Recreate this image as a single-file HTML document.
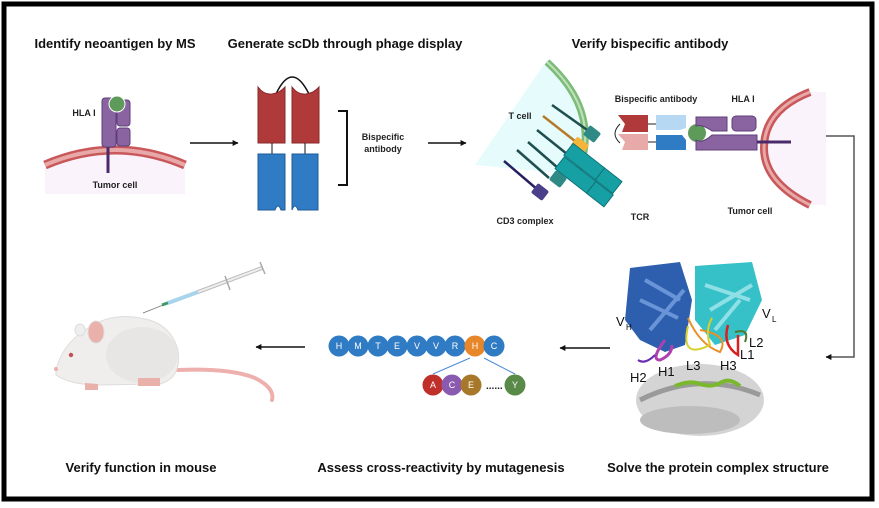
<!DOCTYPE html>
<html><head><meta charset="utf-8"><style>
html,body{margin:0;padding:0;background:#fff;}
svg{display:block;}
text{font-family:"Liberation Sans",sans-serif;}
.t{font-size:13px;font-weight:bold;fill:#111;text-anchor:middle;}
.s{font-size:9px;font-weight:bold;fill:#222;text-anchor:middle;}
.p{font-size:9px;fill:#fff;text-anchor:middle;}
.l{font-size:13px;fill:#111;}
</style></head><body>
<svg width="879" height="508" viewBox="0 0 879 508" xmlns="http://www.w3.org/2000/svg">
<defs>
<marker id="ah" viewBox="0 0 10 10" refX="9" refY="5" markerWidth="4" markerHeight="4" orient="auto"><path d="M0,0L10,5L0,10z" fill="#111"/></marker>
</defs>
<rect x="0" y="0" width="879" height="508" fill="#fff"/>
<rect x="4" y="4" width="868" height="495" fill="none" stroke="#000" stroke-width="5"/>

<text class="t" x="115" y="48">Identify neoantigen by MS</text>
<text class="t" x="345" y="48">Generate scDb through phage display</text>
<text class="t" x="650" y="48">Verify bispecific antibody</text>
<text class="t" x="141" y="472">Verify function in mouse</text>
<text class="t" x="441" y="472">Assess cross-reactivity by mutagenesis</text>
<text class="t" x="718" y="472">Solve the protein complex structure</text>

<path d="M45,165 Q115,135 185,165 L185,194 L45,194 Z" fill="#fbf3fb"/>
<path d="M45,165 Q115,135 185,165" fill="none" stroke="#c9585a" stroke-width="9"/>
<path d="M45,165 Q115,135 185,165" fill="none" stroke="#e8a8a8" stroke-width="4"/>
<line x1="108" y1="145" x2="108" y2="173" stroke="#4a2a6a" stroke-width="3"/>
<rect x="102" y="98" width="14" height="49" rx="3" fill="#8a64a0" stroke="#5f3f7a"/>
<rect x="117" y="100" width="13" height="26" rx="3" fill="#8a64a0" stroke="#5f3f7a"/>
<rect x="117" y="128" width="13" height="18" rx="3" fill="#8a64a0" stroke="#5f3f7a"/>
<circle cx="117" cy="104" r="8" fill="#5e9a5a" stroke="#fff"/>
<text class="s" x="84" y="116">HLA I</text>
<text class="s" x="115" y="188">Tumor cell</text>

<line x1="190" y1="143" x2="238" y2="143" stroke="#111" stroke-width="1.5" marker-end="url(#ah)"/>

<path d="M276,94 Q292,60 309,94" fill="none" stroke="#111" stroke-width="1.5"/>
<path d="M258,87 Q264,95 272,94 Q280,93 285,87 L285,143 L258,143 Z" fill="#b03a3a" stroke="#8a2a2a"/>
<path d="M292,87 Q298,95 306,94 Q314,93 319,87 L319,143 L292,143 Z" fill="#b03a3a" stroke="#8a2a2a"/>
<line x1="272" y1="143" x2="272" y2="154" stroke="#111"/>
<line x1="305" y1="143" x2="305" y2="154" stroke="#111"/>
<path d="M258,154 L285,154 L285,210 L281,210 Q278,202 275,210 L258,210 Z" fill="#2f7bc4" stroke="#1f5a96"/>
<path d="M292,154 L318,154 L318,210 L298,210 Q295,202 292,210 Z" fill="#2f7bc4" stroke="#1f5a96"/>
<path d="M338,111 L347,111 L347,185 L338,185" fill="none" stroke="#111" stroke-width="2"/>
<text class="s" x="383" y="140">Bispecific</text>
<text class="s" x="383" y="152">antibody</text>

<line x1="428" y1="143" x2="466" y2="143" stroke="#111" stroke-width="1.5" marker-end="url(#ah)"/>

<path d="M547,60 Q600,110 580,175 L475,165 Z" fill="#e6fbfb"/>
<path d="M547,62 Q605,115 575,180" fill="none" stroke="#7cbc78" stroke-width="7"/>
<path d="M547,62 Q605,115 575,180" fill="none" stroke="#bfe0bb" stroke-width="2"/>
<text class="s" x="520" y="119">T cell</text>
<g stroke-width="2.5">
<line x1="552" y1="105" x2="590" y2="132" stroke="#1e4e4e"/>
<line x1="543" y1="116" x2="580" y2="145" stroke="#b57a2a"/>
<line x1="537" y1="130" x2="572" y2="158" stroke="#1e4e4e"/>
<line x1="528" y1="142" x2="558" y2="168" stroke="#1e4e4e"/>
<line x1="517" y1="150" x2="549" y2="178" stroke="#1e4e4e"/>
<line x1="504" y1="161" x2="538" y2="190" stroke="#262060"/>
</g>
<g transform="rotate(38 592 134)"><rect x="585" y="128" width="14" height="12" rx="2" fill="#2f8a86"/></g>
<g transform="rotate(38 580 146)"><rect x="572" y="140" width="15" height="12" rx="2" fill="#f4b53a"/></g>
<g transform="rotate(38 558 179)"><rect x="551" y="173" width="14" height="12" rx="2" fill="#2f8a86"/></g>
<g transform="rotate(38 540 192)"><rect x="533" y="186" width="14" height="12" rx="2" fill="#4a3f8a"/></g>
<g transform="rotate(38 583 160)"><rect x="565" y="153" width="40" height="15" fill="#17a0a4" stroke="#0d7478"/><rect x="605" y="153" width="22" height="15" fill="#17a0a4" stroke="#0d7478"/></g>
<g transform="rotate(38 575 174)"><rect x="556" y="167" width="40" height="15" fill="#17a0a4" stroke="#0d7478"/><rect x="596" y="167" width="22" height="15" fill="#17a0a4" stroke="#0d7478"/></g>
<text class="s" x="525" y="224">CD3 complex</text>
<text class="s" x="640" y="220">TCR</text>

<text class="s" x="656" y="102">Bispecific antibody</text>
<text class="s" x="743" y="102">HLA I</text>
<path d="M620,124 Q610,134 620,143" fill="none" stroke="#222"/>
<path d="M618,115 L648,115 L648,132 L622,132 L625,124 Z" fill="#b03a3a"/>
<path d="M618,134 L648,134 L648,150 L622,150 L625,142 Z" fill="#e8aaa8"/>
<line x1="648" y1="124" x2="656" y2="124" stroke="#222"/>
<line x1="648" y1="142" x2="656" y2="142" stroke="#222"/>
<path d="M656,115 L686,115 L686,128 L680,130 L656,130 Z" fill="#b6d8f2"/>
<path d="M656,135 L682,135 L686,140 L686,150 L656,150 Z" fill="#2f7bc4"/>
<circle cx="697" cy="133" r="9" fill="#5e9a5a"/>
<path d="M696,117 L727,117 L727,131 L712,131 Q702,124 696,126 Z" fill="#8a64a0" stroke="#5f3f7a"/>
<rect x="732" y="116" width="24" height="15" rx="4" fill="#8a64a0" stroke="#5f3f7a"/>
<path d="M696,150 L757,150 L757,135 L712,135 Q702,144 696,140 Z" fill="#8a64a0" stroke="#5f3f7a"/>
<path d="M810,92 L826,92 L826,205 L810,205 Q762,180 762,148 Q764,110 810,92 Z" fill="#fbf3fb"/>
<path d="M810,92 Q764,110 764,148 Q764,182 810,205" fill="none" stroke="#c9585a" stroke-width="8"/>
<path d="M810,92 Q764,110 764,148 Q764,182 810,205" fill="none" stroke="#e8a8a8" stroke-width="3"/>
<line x1="757" y1="142" x2="791" y2="142" stroke="#4a2a6a" stroke-width="3"/>
<text class="s" x="750" y="214">Tumor cell</text>

<path d="M826,136 L854,136 L854,357 L826,357" fill="none" stroke="#555" stroke-width="1.5" marker-end="url(#ah)"/>

<ellipse cx="700" cy="400" rx="64" ry="36" fill="#d4d4d4"/>
<ellipse cx="690" cy="420" rx="50" ry="14" fill="#bdbdbd"/>
<path d="M640,400 Q700,370 760,395" fill="none" stroke="#9a9a9a" stroke-width="5"/>
<path d="M675,386 Q690,380 700,384 Q712,388 722,382 Q730,378 740,386" fill="none" stroke="#7ab82e" stroke-width="4"/>
<path d="M630,268 L680,262 L692,300 L685,345 L665,352 L640,340 L625,320 Z" fill="#2e5fae"/>
<path d="M645,280 L680,300 M640,300 L678,318 M650,330 L684,290" stroke="#6a94d8" stroke-width="4"/>
<path d="M695,266 L752,262 L762,300 L745,335 L715,345 L695,320 Z" fill="#36c0c8"/>
<path d="M705,285 L750,300 M710,310 L752,285 M715,330 L740,300" stroke="#8ee0e6" stroke-width="4"/>
<path d="M688,318 Q700,345 720,352 Q730,335 700,330" fill="none" stroke="#e8902a" stroke-width="2"/>
<path d="M688,326 Q680,360 710,345 Q705,330 712,318" fill="none" stroke="#d8d02a" stroke-width="2"/>
<path d="M728,325 Q722,345 738,355 L738,335" fill="none" stroke="#d82020" stroke-width="2.5"/>
<path d="M735,332 Q750,328 745,342" fill="none" stroke="#4a7a2a" stroke-width="2"/>
<path d="M665,340 Q650,360 660,360 Q672,355 672,345" fill="none" stroke="#b040b0" stroke-width="3"/>
<path d="M655,355 Q645,365 638,360" fill="none" stroke="#6a2ab0" stroke-width="2"/>
<text class="l" x="616" y="326">V</text><text x="626" y="330" style="font-size:8px">H</text>
<text class="l" x="762" y="318">V</text><text x="772" y="322" style="font-size:8px">L</text>
<text class="l" x="630" y="382">H2</text>
<text class="l" x="658" y="376">H1</text>
<text class="l" x="686" y="370">L3</text>
<text class="l" x="720" y="370">H3</text>
<text class="l" x="740" y="359">L1</text>
<text class="l" x="749" y="347">L2</text>

<line x1="610" y1="348" x2="560" y2="348" stroke="#111" stroke-width="1.5" marker-end="url(#ah)"/>

<g>
<circle cx="339" cy="346" r="10.5" fill="#2f7bc4"/><text class="p" x="339" y="349">H</text>
<circle cx="358" cy="346" r="10.5" fill="#2f7bc4"/><text class="p" x="358" y="349">M</text>
<circle cx="378" cy="346" r="10.5" fill="#2f7bc4"/><text class="p" x="378" y="349">T</text>
<circle cx="397" cy="346" r="10.5" fill="#2f7bc4"/><text class="p" x="397" y="349">E</text>
<circle cx="417" cy="346" r="10.5" fill="#2f7bc4"/><text class="p" x="417" y="349">V</text>
<circle cx="436" cy="346" r="10.5" fill="#2f7bc4"/><text class="p" x="436" y="349">V</text>
<circle cx="455" cy="346" r="10.5" fill="#2f7bc4"/><text class="p" x="455" y="349">R</text>
<circle cx="475" cy="346" r="10.5" fill="#e8862a"/><text class="p" x="475" y="349">H</text>
<circle cx="494" cy="346" r="10.5" fill="#2f7bc4"/><text class="p" x="494" y="349">C</text>
<line x1="470" y1="358" x2="433" y2="374" stroke="#4a8ad4"/>
<line x1="484" y1="358" x2="515" y2="374" stroke="#4a8ad4"/>
<circle cx="433" cy="385" r="10.5" fill="#c0302a"/><text class="p" x="433" y="388">A</text>
<circle cx="452" cy="385" r="10.5" fill="#8a5ab0"/><text class="p" x="452" y="388">C</text>
<circle cx="471" cy="385" r="10.5" fill="#a8782a"/><text class="p" x="471" y="388">E</text>
<text x="486" y="389" style="font-size:10px;fill:#222;font-weight:bold">......</text>
<circle cx="515" cy="385" r="10.5" fill="#5a8a48"/><text class="p" x="515" y="388">Y</text>
</g>

<line x1="305" y1="347" x2="256" y2="347" stroke="#111" stroke-width="1.5" marker-end="url(#ah)"/>

<path d="M178,370 Q230,368 255,378 Q275,388 272,400" fill="none" stroke="#eeb0ac" stroke-width="4" stroke-linecap="round"/>
<path d="M56,370 Q62,345 85,330 Q110,312 140,318 Q170,322 178,350 Q182,378 160,384 L100,385 Q70,385 56,375 Z" fill="#f0eeec" stroke="#ddd" />
<ellipse cx="142" cy="355" rx="36" ry="28" fill="#e8e6e4"/>
<ellipse cx="96" cy="332" rx="8" ry="11" fill="#eab0aa" stroke="#ddd"/>
<ellipse cx="80" cy="330" rx="5" ry="6" fill="#eee" stroke="#ddd"/>
<circle cx="71" cy="355" r="2.2" fill="#c0505a"/>
<circle cx="56" cy="369" r="2" fill="#eab0aa"/>
<path d="M85,383 L98,384 L98,390 L85,390 Z M138,378 L160,378 L160,386 L138,386 Z" fill="#eab0aa"/>
<line x1="143" y1="313" x2="196" y2="292" stroke="#777" stroke-width="0.8"/>
<line x1="162" y1="305" x2="198" y2="292" stroke="#3a9a6a" stroke-width="3"/>
<line x1="168" y1="303" x2="198" y2="292" stroke="#a8d4ec" stroke-width="4"/>
<line x1="198" y1="292" x2="262" y2="268" stroke="#bbb" stroke-width="4"/>
<line x1="198" y1="292" x2="262" y2="268" stroke="#eee" stroke-width="2"/>
<line x1="225" y1="276" x2="230" y2="290" stroke="#aaa" stroke-width="1.5"/>
<line x1="260" y1="262" x2="265" y2="274" stroke="#aaa" stroke-width="1.5"/>
</svg>
</body></html>
